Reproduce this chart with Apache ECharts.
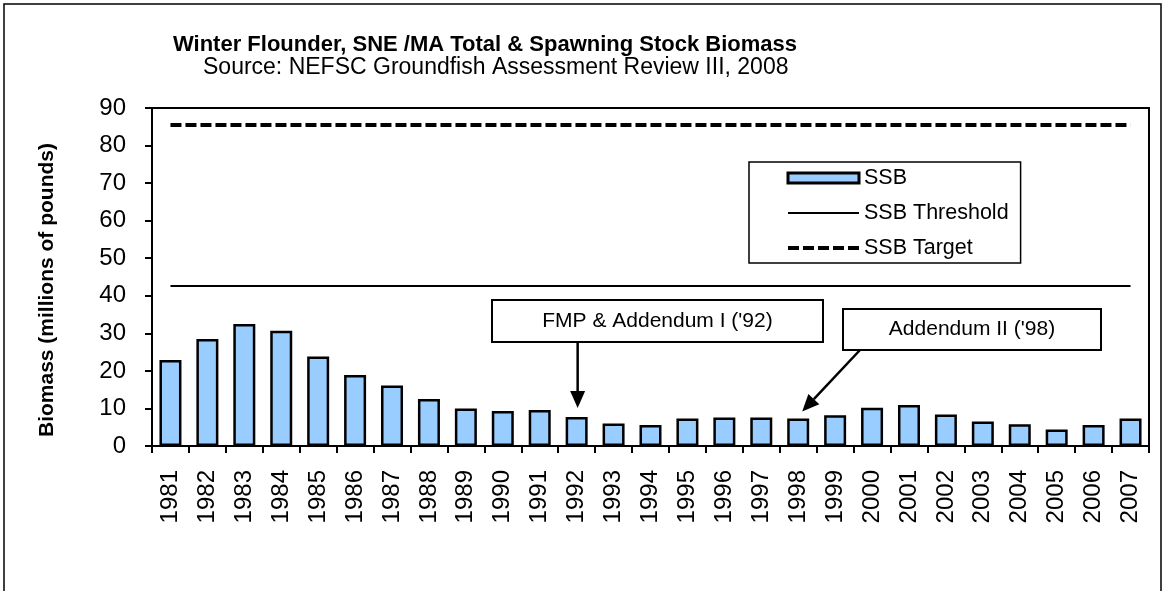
<!DOCTYPE html>
<html>
<head>
<meta charset="utf-8">
<script src="https://cdn.jsdelivr.net/npm/echarts@6/dist/echarts.min.js"></script>
<style>
  html, body { margin: 0; padding: 0; background: #fff; }
  #chart { width: 1166px; height: 591px; }
</style>
</head>
<body>
<div id="chart"></div>
<script>
// values
const years = ['1981','1982','1983','1984','1985','1986','1987','1988','1989','1990',
  '1991','1992','1993','1994','1995','1996','1997','1998','1999','2000',
  '2001','2002','2003','2004','2005','2006','2007'];
const ssb = [22.9, 28.5, 32.5, 30.7, 23.8, 18.9, 16.1, 12.5, 10.0, 9.3,
  9.6, 7.7, 6.0, 5.6, 7.3, 7.6, 7.6, 7.3, 8.2, 10.2,
  10.9, 8.4, 6.5, 5.8, 4.4, 5.6, 7.3];
const ssbThreshold = 42.6;
const ssbTarget = 85.5;
const yTicks = { min: 0, max: 90, interval: 10 };

const FONT = 'Liberation Sans, Arial, sans-serif';

const myChart = echarts.init(document.getElementById('chart'));

const hiddenDot = { color: 'rgba(0,0,0,0)', borderWidth: 0 };

const option = {
  animation: false,
  textStyle: { fontFamily: FONT, color: '#000' },
  title: [
    {
      text: 'Winter Flounder, SNE /MA Total & Spawning Stock Biomass',
      left: 173, top: 34, padding: 0,
      textStyle: { fontFamily: FONT, fontSize: 22, fontWeight: 'bold', color: '#000' }
    },
    {
      text: 'Source: NEFSC Groundfish Assessment Review III, 2008',
      left: 203, top: 56, padding: 0,
      textStyle: { fontFamily: FONT, fontSize: 23, fontWeight: 'normal', color: '#000' }
    }
  ],
  grid: {
    left: 152, right: 17, top: 108, bottom: 145,
    show: true, borderColor: '#000', borderWidth: 2
  },
  legend: {
    orient: 'vertical',
    left: 749, top: 162,
    padding: [5, 12, 4, 37],
    itemGap: 13,
    itemWidth: 71,
    itemHeight: 10,
    borderColor: '#000', borderWidth: 1.5,
    backgroundColor: '#fff',
    textStyle: { fontFamily: FONT, fontSize: 21.5, color: '#000', lineHeight: 21 },
    data: [
      { name: 'SSB', icon: 'rect', itemStyle: { color: '#99CCFF', borderColor: '#000', borderWidth: 3 } },
      { name: 'SSB Threshold', itemStyle: hiddenDot, lineStyle: { color: '#000', width: 2 } },
      { name: 'SSB Target', itemStyle: hiddenDot, lineStyle: { color: '#000', width: 4, type: [11, 4] } }
    ]
  },
  xAxis: {
    type: 'category',
    data: years,
    axisLine: { lineStyle: { color: '#000', width: 2 } },
    axisTick: { show: true, interval: 0, length: 7, lineStyle: { color: '#000', width: 2 } },
    axisLabel: { interval: 0, rotate: 90, margin: 24, fontSize: 24, fontFamily: FONT, color: '#000' }
  },
  yAxis: {
    type: 'value',
    min: yTicks.min, max: yTicks.max, interval: yTicks.interval,
    axisLine: { show: true, lineStyle: { color: '#000', width: 2 } },
    axisTick: { show: true, length: 7, lineStyle: { color: '#000', width: 2 } },
    axisLabel: { margin: 26, fontSize: 24, fontFamily: FONT, color: '#000' },
    splitLine: { show: false }
  },
  series: [
    {
      name: 'SSB',
      type: 'bar',
      data: ssb,
      barWidth: 22,
      itemStyle: { color: '#99CCFF', borderColor: '#000', borderWidth: 2.5 }
    },
    {
      name: 'SSB Threshold',
      type: 'line',
      data: years.map(() => ssbThreshold),
      symbol: 'none',
      lineStyle: { color: '#000', width: 2 },
      itemStyle: { color: '#000' }
    },
    {
      name: 'SSB Target',
      type: 'line',
      data: years.map(() => ssbTarget),
      symbol: 'none',
      lineStyle: { color: '#000', width: 4, type: [11, 4] },
      itemStyle: { color: '#000' }
    }
  ]
};

myChart.setOption(option);

// annotation boxes and arrows
function arrow(sx, sy, tx, ty) {
  const dx = tx - sx, dy = ty - sy;
  const len = Math.sqrt(dx * dx + dy * dy);
  const ux = dx / len, uy = dy / len;
  const L = 17, W = 7.5;
  const bx = tx - ux * L, by = ty - uy * L;
  return [
    { type: 'line', shape: { x1: sx, y1: sy, x2: bx, y2: by }, style: { stroke: '#000', lineWidth: 2.5 }, z: 20 },
    { type: 'polygon', shape: { points: [[tx, ty], [bx - uy * W, by + ux * W], [bx + uy * W, by - ux * W]] },
      style: { fill: '#000' }, z: 20 }
  ];
}

function box(x, y, w, h, text) {
  return [
    { type: 'rect', shape: { x: x, y: y, width: w, height: h }, style: { fill: '#fff', stroke: '#000', lineWidth: 2 }, z: 20 },
    { type: 'text', x: x + w / 2, y: y + h / 2, z: 21,
      style: { text: text, font: '21px ' + FONT, fill: '#000', align: 'center', verticalAlign: 'middle' } }
  ];
}

const p92 = myChart.convertToPixel({ seriesIndex: 0 }, ['1992', ssb[11]]);
const p98 = myChart.convertToPixel({ seriesIndex: 0 }, ['1998', ssb[17]]);

const graphics = [
  { type: 'rect', shape: { x: 4, y: 4, width: 1157, height: 620 }, style: { fill: 'none', stroke: '#000', lineWidth: 1.5 }, z: 0 },
  { type: 'text', x: 47, y: 290, rotation: Math.PI / 2, z: 5,
    style: { text: 'Biomass (millions of pounds)', font: 'bold 21px ' + FONT, fill: '#000', align: 'center', verticalAlign: 'middle' } }
]
  .concat(box(492, 300, 331, 42, "FMP & Addendum I ('92)"))
  .concat(box(843, 309, 258, 41, "Addendum II ('98)"))
  .concat(arrow(p92[0] + 1, 342, p92[0] + 1, p92[1] - 9))
  .concat(arrow(860, 350, p98[0] + 4, p98[1] - 7));

myChart.setOption({ graphic: graphics });
window.addEventListener('resize', () => { myChart.resize(); });
</script>
</body>
</html>
